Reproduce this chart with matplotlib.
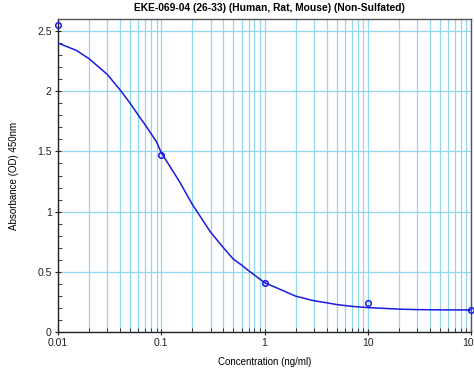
import numpy as np
import matplotlib
matplotlib.use('Agg')
import matplotlib.pyplot as plt
from matplotlib.ticker import LogLocator, FixedLocator, MultipleLocator, FuncFormatter

plt.rcParams['font.family'] = ['Liberation Sans', 'DejaVu Sans']

# measured standards
conc = [0.01, 0.1, 1, 10, 100]
absorb = [2.55, 1.47, 0.41, 0.24, 0.183]

# fitted curve
curve_x = [0.01, 0.015, 0.02, 0.03, 0.04, 0.05, 0.06, 0.07, 0.08, 0.09, 0.1,
           0.15, 0.2, 0.3, 0.4, 0.5, 0.6, 0.7, 0.8, 0.9, 1,
           1.5, 2, 3, 4.3, 5, 7, 10, 20, 30, 50, 100]
curve_y = [2.40, 2.34, 2.27, 2.14, 2.01, 1.90, 1.80, 1.72, 1.645, 1.58, 1.49,
           1.25, 1.06, 0.83, 0.70, 0.605, 0.556, 0.51, 0.473, 0.44, 0.41,
           0.345, 0.298, 0.26, 0.238, 0.228, 0.213, 0.203, 0.19, 0.186, 0.184, 0.183]

title_text = 'EKE-069-04 (26-33) (Human, Rat, Mouse) (Non-Sulfated)'
grid_col = '#93d6ef'
line_col = '#1a1ae0'

fig = plt.figure(figsize=(4.74, 3.79), dpi=100)
ax = fig.add_axes([58/474, 1-332/379, (471-58)/474, (332-19)/379])

ax.set_xscale('log')
ax.set_xlim(0.01, 100)
ax.set_ylim(0, 2.6)

ax.plot(curve_x, curve_y, color=line_col, lw=1.1, zorder=3)
ax.plot(conc, absorb, 'o', mfc='none', mec=line_col, ms=4, mew=1.1, zorder=4, clip_on=False)

ax.xaxis.set_major_locator(FixedLocator([0.01, 0.1, 1, 10, 100]))
ax.xaxis.set_minor_locator(LogLocator(base=10, subs=np.arange(2, 10)))
ax.xaxis.set_major_formatter(FuncFormatter(lambda v, p: '%g' % v))
ax.xaxis.set_minor_formatter(FuncFormatter(lambda v, p: ''))
ax.yaxis.set_major_locator(FixedLocator([0, 0.5, 1, 1.5, 2, 2.5]))
ax.yaxis.set_minor_locator(MultipleLocator(0.1))
ax.yaxis.set_major_formatter(FuncFormatter(lambda v, p: '%g' % v))

ax.grid(True, which='both', axis='x', color=grid_col, lw=0.9)
ax.grid(True, which='major', axis='y', color=grid_col, lw=0.9)
ax.set_axisbelow(True)

ax.tick_params(which='major', direction='inout', length=5, labelsize=7.5, colors='#222222', pad=2)
ax.tick_params(which='minor', direction='in', length=3, colors='#222222')

for s in ['top', 'right']:
    ax.spines[s].set_color('#555555')
    ax.spines[s].set_linewidth(1.0)
for s in ['left', 'bottom']:
    ax.spines[s].set_color('#222222')
    ax.spines[s].set_linewidth(1.0)

ax.set_xlabel('Concentration (ng/ml)', fontsize=7, labelpad=6)
ax.set_ylabel('Absorbance (OD) 450nm', fontsize=7, labelpad=13)
fig.text(269/474, 1-8/379, title_text, ha='center', va='center', fontsize=7.4, fontweight='bold')

plt.savefig('out.png', dpi=100)
